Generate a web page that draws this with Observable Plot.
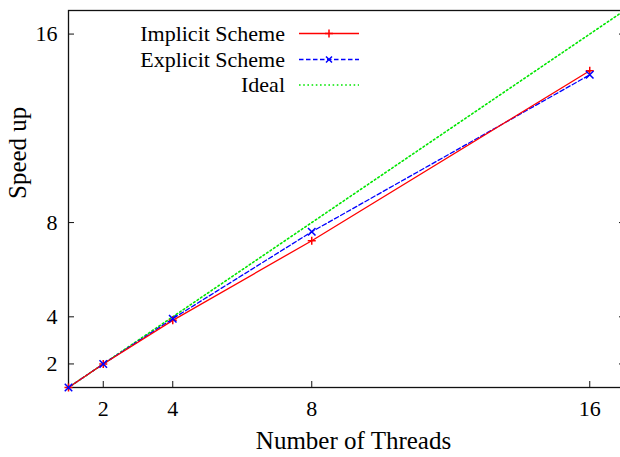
<!DOCTYPE html>
<html>
<head>
<meta charset="utf-8">
<script src="https://cdn.jsdelivr.net/npm/d3@7"></script>
<script src="https://cdn.jsdelivr.net/npm/@observablehq/plot@0.6"></script>
<style>
  html, body { margin: 0; padding: 0; background: #fff; overflow: hidden; width: 620px; height: 457px; }
  #wrap { position: relative; width: 620px; height: 457px; overflow: hidden; }
  #wrap svg { max-width: none !important; font-family: "Liberation Serif", "Times New Roman", "DejaVu Serif", serif !important; }
  #wrap svg text { font-family: "Liberation Serif", "Times New Roman", "DejaVu Serif", serif !important; }
  #legend { position: absolute; left: 0; top: 0; pointer-events: none; }
</style>
</head>
<body>
<div id="wrap"></div>
<script>
const threads = [1, 2, 4, 8, 16];
const implicitSpeedup = [1, 2, 3.85, 7.23, 14.44];
const explicitSpeedup = [1, 2, 3.92, 7.61, 14.27];
const idealThreads = [1, 2, 4, 8, 16, 17];
const idealSpeedup = [1, 2, 4, 8, 16, 17];
const xTicks = [2, 4, 8, 16];
const yTicks = [2, 4, 8, 16];
const seriesNames = ["Implicit Scheme", "Explicit Scheme", "Ideal"];

const implicitData = threads.map((t, i) => ({t, s: implicitSpeedup[i]}));
const explicitData = threads.map((t, i) => ({t, s: explicitSpeedup[i]}));
const idealData = idealThreads.map((t, i) => ({t, s: idealSpeedup[i]}));

const RED = "#ff0000", BLUE = "#0000ff", GREEN = "#00e600";
const FONT = "'Liberation Serif', 'Times New Roman', serif";

const chart = Plot.plot({
  width: 630,
  height: 457,
  marginLeft: 68,
  marginRight: 6,
  marginTop: 10,
  marginBottom: 70,
  style: {fontFamily: FONT, background: "#fff", overflow: "visible", maxWidth: "none"},
  x: {domain: [1, 17]},
  y: {domain: [1, 17]},
  marks: [
    Plot.frame({stroke: "#111", strokeWidth: 1.3}),
    Plot.axisX(xTicks, {tickSize: 0, tickPadding: 13, fontSize: 22, fill: "#000", label: null}),
    Plot.axisX(xTicks, {tickSize: -6, tickFormat: () => "", stroke: "#111", label: null}),
    Plot.axisY(yTicks, {tickSize: 0, tickPadding: 11, fontSize: 22, fill: "#000", label: null}),
    Plot.axisY(yTicks, {tickSize: -6, tickFormat: () => "", stroke: "#111", label: null}),
    Plot.axisY(yTicks, {anchor: "right", tickSize: -6, tickFormat: () => "", stroke: "#111", label: null}),
    Plot.line(idealData, {x: "t", y: "s", stroke: GREEN, strokeWidth: 1.6, strokeDasharray: "1.6,2.6"}),
    Plot.line(explicitData, {x: "t", y: "s", stroke: BLUE, strokeWidth: 1.3, strokeDasharray: "4.5,2.5"}),
    Plot.line(implicitData, {x: "t", y: "s", stroke: RED, strokeWidth: 1.3}),
    Plot.dot(implicitData, {x: "t", y: "s", symbol: "plus", r: 2.7, stroke: RED, strokeWidth: 1.5}),
    Plot.dot(explicitData, {x: "t", y: "s", symbol: "times", r: 3.5, stroke: BLUE, strokeWidth: 1.5}),
    Plot.text(["Number of Threads"], {frameAnchor: "bottom", dx: 7, dy: 53, lineAnchor: "middle", fontSize: 25, fill: "#000"}),
    Plot.text(["Speed up"], {frameAnchor: "left", dx: -51, rotate: -90, lineAnchor: "middle", fontSize: 25, fill: "#000"})
  ]
});
document.getElementById("wrap").appendChild(chart);

// legend overlay
const rows = [
  {name: seriesNames[0], y: 33.5, stroke: RED, dash: null, sym: "plus"},
  {name: seriesNames[1], y: 59.5, stroke: BLUE, dash: "4.5,2.5", sym: "times"},
  {name: seriesNames[2], y: 85, stroke: GREEN, dash: "1.6,2.6", sym: null}
];
const lg = d3.select("#wrap").append("svg")
  .attr("id", "legend").attr("width", 620).attr("height", 457);
rows.forEach(r => {
  lg.append("text").attr("x", 285).attr("y", r.y).attr("dy", "0.32em")
    .attr("text-anchor", "end").attr("font-size", 22).attr("fill", "#000").text(r.name);
  lg.append("line").attr("x1", 299).attr("x2", 359).attr("y1", r.y).attr("y2", r.y)
    .attr("stroke", r.stroke).attr("stroke-width", r.sym === null ? 1.6 : 1.3)
    .attr("stroke-dasharray", r.dash);
  if (r.sym === "plus") {
    lg.append("path").attr("d", `M325,${r.y}h8M329,${r.y - 4}v8`).attr("stroke", r.stroke).attr("stroke-width", 1.5);
  } else if (r.sym === "times") {
    lg.append("path").attr("d", `M326,${r.y - 3}l6,6M332,${r.y - 3}l-6,6`).attr("stroke", r.stroke).attr("stroke-width", 1.5);
  }
});
</script>
</body>
</html>
